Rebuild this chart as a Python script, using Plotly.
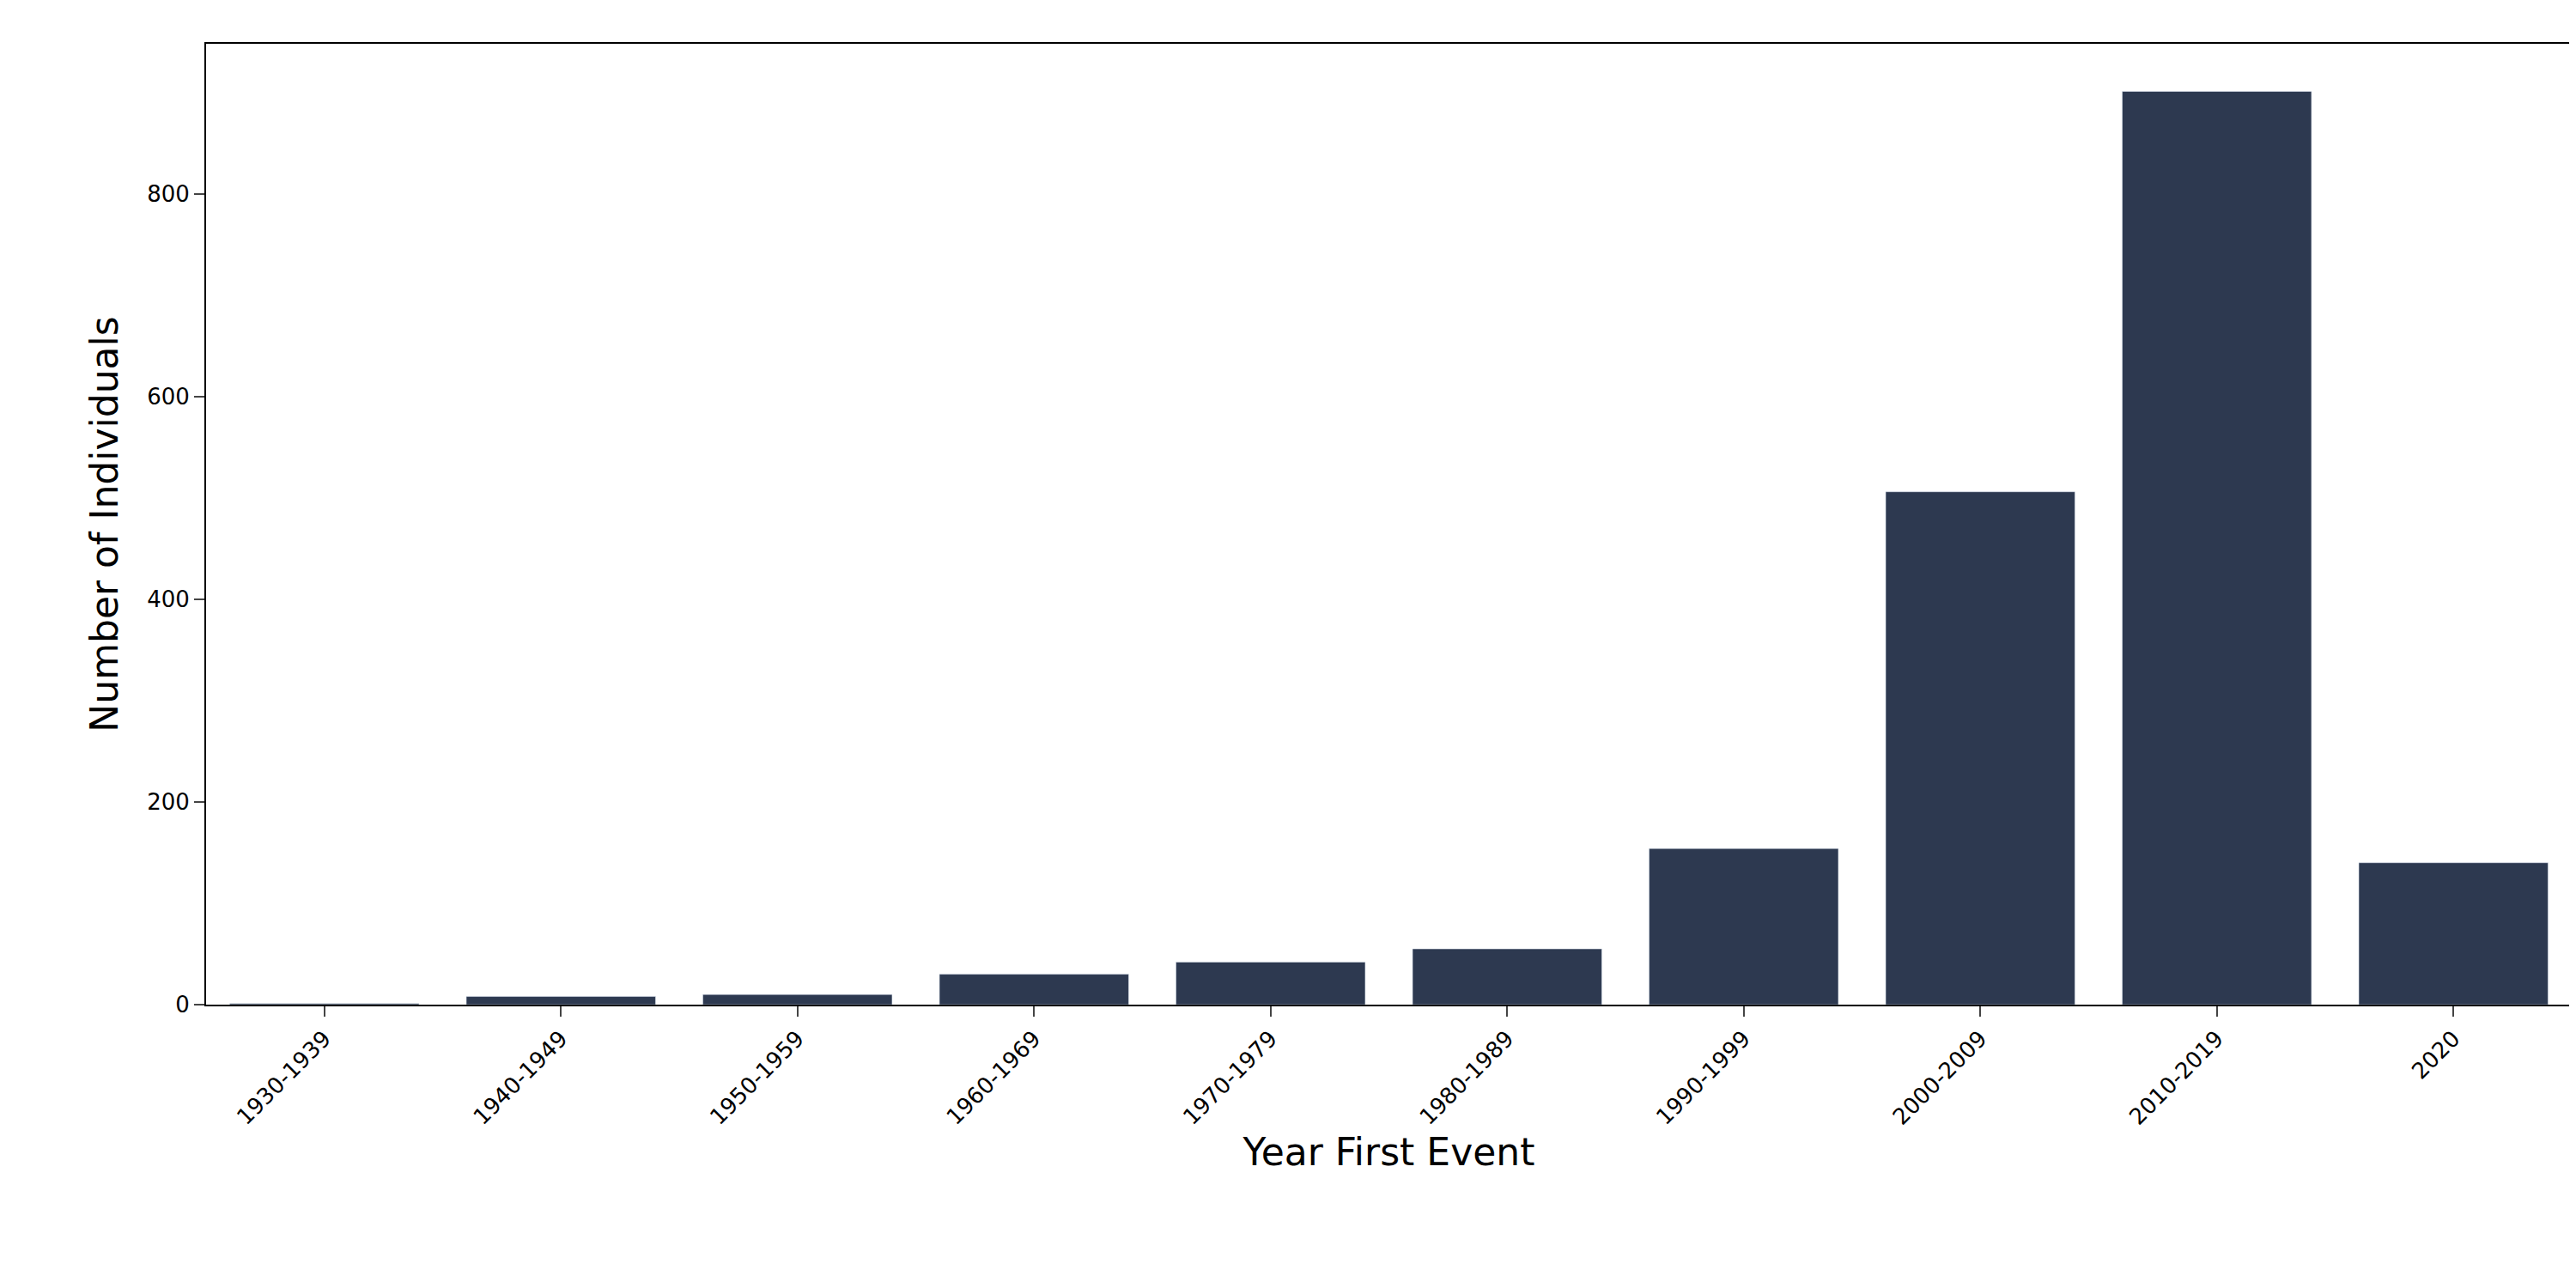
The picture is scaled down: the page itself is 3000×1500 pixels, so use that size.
import plotly.graph_objects as go

categories = ["1930-1939","1940-1949","1950-1959","1960-1969","1970-1979","1980-1989","1990-1999","2000-2009","2010-2019","2020"]
counts = [1, 8, 10, 30, 42, 55, 154, 506, 901, 140]

fig = go.Figure(go.Bar(x=categories, y=counts, marker_color="#2d3950", width=0.8))
fig.update_layout(
    width=3000, height=1500, plot_bgcolor="white", paper_bgcolor="white",
    margin=dict(l=232, r=13, t=43, b=338),
    font=dict(family="DejaVu Sans", color="black", size=26),
    showlegend=False,
)
fig.update_xaxes(
    title=dict(text="Year First Event", font=dict(size=44), standoff=10),
    tickangle=-45, ticks="outside", ticklen=12, tickwidth=2,
    showline=True, linecolor="black", linewidth=2, mirror=True,
    range=[-0.5, 9.5], tickfont=dict(size=26),
)
fig.update_yaxes(
    title=dict(text="Number of Individuals", font=dict(size=44), standoff=20),
    range=[0, 948], tickvals=[0, 200, 400, 600, 800],
    ticks="outside", ticklen=12, tickwidth=2, showgrid=False, zeroline=False,
    showline=True, linecolor="black", linewidth=2, mirror=True, tickfont=dict(size=26),
)
fig.write_html("out.html")
